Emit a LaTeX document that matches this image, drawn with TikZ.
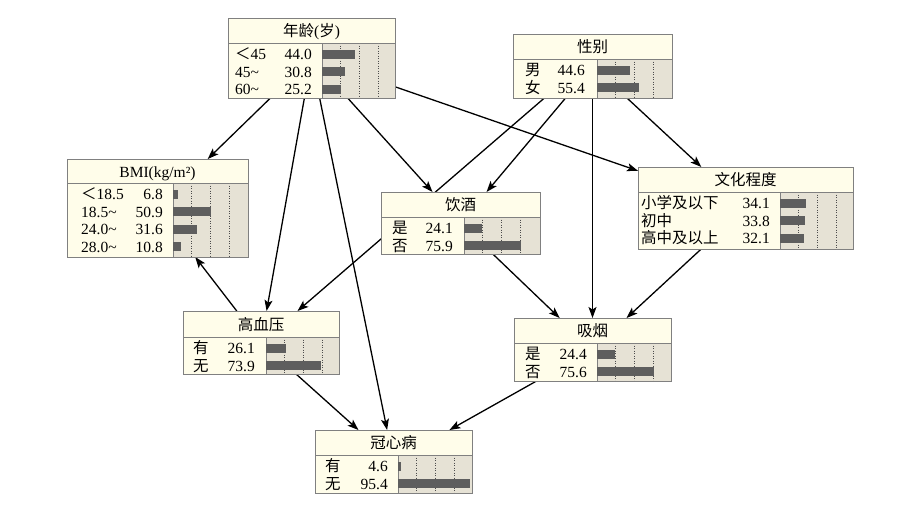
\documentclass[tikz,border=0pt]{standalone}
\usepackage{fontspec}
\setmainfont{Liberation Serif}
\newfontfamily\cjk{Noto Sans CJK SC}
\usetikzlibrary{arrows.meta,backgrounds}
\definecolor{cream}{HTML}{FFFDEA}
\definecolor{barbg}{HTML}{E6E2D5}
\definecolor{bordergray}{HTML}{808080}
\definecolor{barfill}{HTML}{5E5E5E}
\tikzset{
  bnbox/.style={rectangle, draw=bordergray, line width=1pt, fill=cream, inner sep=0pt, outer sep=0pt},
  bnline/.style={draw=bordergray, line width=1pt},
  dotline/.style={draw=black!70, line width=0.6pt, dash pattern=on 1pt off 1.5pt},
  edge/.style={draw=black, line width=1.3pt, -{Stealth[length=11pt,width=8pt,inset=2.5pt]}},
  txt/.style={inner sep=0pt, font=\fontsize{15.5}{17}\selectfont},
}
% #1 name #2 x0 #3 y0 #4 x1 #5 ytitle #6 y1 #7 xbar #8 title
\newcommand\bnnode[8]{%
  \node[bnbox, minimum width={(#4-#2)*1pt}, minimum height={(#6-#3)*1pt}] (#1) at ({(#2+#4)/2},{(#3+#6)/2}) {};
  \fill[barbg] (#7,#5) rectangle (#4,#6);
  \foreach \k in {1,2,3} \draw[dotline] ({#7+18.75*\k},#5) -- ({#7+18.75*\k},#6);
  \draw[bnline] (#2,#5) -- (#4,#5);
  \draw[bnline] (#7,#5) -- (#7,#6);
  \draw[bnline] (#1.north west) rectangle (#1.south east);
  \node[txt, anchor=base] (#1-title) at ({(#2+#4)/2},{(#3+#5)/2+6}) {#8};
}
% #1 name #2 label x #3 number right x #4 ytitle #5 xbar #6 rows
\newcommand\bnrows[6]{%
  \foreach \lab/\val [count=\i from 0] in {#6} {
    \pgfmathsetmacro\yc{#4+11+17.5*\i}
    \fill[barfill] (#5,\yc-4.5) rectangle ({#5+0.75*\val},\yc+4.5);
    \node[txt, anchor=base west] (#1-l\i) at (#2,\yc+5.5) {\lab};
    \node[txt, anchor=base east] (#1-v\i) at (#3,\yc+5.5) {\val};
  }
}
\begin{document}
\begin{tikzpicture}[x=1pt,y=-1pt]
\useasboundingbox (0,0) rectangle (914,504);

\bnnode{age}{228}{18}{395}{43}{98}{322}{{\cjk 年龄}({\cjk 岁})}
\bnrows{age}{235}{312}{43}{322}{{\cjk ＜}45/44.0, 45\textasciitilde/30.8, 60\textasciitilde/25.2}

\bnnode{sex}{513}{34}{672}{59}{98}{597}{\cjk 性别}
\bnrows{sex}{525}{585}{59}{597}{\cjk 男/44.6, \cjk 女/55.4}

\bnnode{bmi}{67}{159}{248}{183}{257}{173}{BMI(kg/m²)}
\bnrows{bmi}{81}{163}{183}{173}{{\cjk ＜}18.5/6.8, 18.5\textasciitilde/50.9, 24.0\textasciitilde/31.6, 28.0\textasciitilde/10.8}

\bnnode{drink}{381}{192}{540}{217}{254}{464}{\cjk 饮酒}
\bnrows{drink}{392}{453}{217}{464}{\cjk 是/24.1, \cjk 否/75.9}

\bnnode{edu}{638}{167}{853}{192}{249}{780}{\cjk 文化程度}
\bnrows{edu}{641}{770}{192}{780}{\cjk 小学及以下/34.1, \cjk 初中/33.8, \cjk 高中及以上/32.1}

\bnnode{hbp}{183}{311}{339}{337}{374}{266}{\cjk 高血压}
\bnrows{hbp}{193}{255}{337}{266}{\cjk 有/26.1, \cjk 无/73.9}

\bnnode{smoke}{514}{318}{671}{343}{381}{597}{\cjk 吸烟}
\bnrows{smoke}{525}{587}{343}{597}{\cjk 是/24.4, \cjk 否/75.6}

\bnnode{chd}{315}{430}{472}{455}{493}{398}{\cjk 冠心病}
\bnrows{chd}{325}{388}{455}{398}{\cjk 有/4.6, \cjk 无/95.4}

\begin{pgfonlayer}{background}
\fill[white] (0,0) rectangle (914,504);
\draw[edge] (age) -- (bmi);
\draw[edge] (age) -- (hbp);
\draw[edge] (age) -- (chd);
\draw[edge] (age) -- (drink);
\draw[edge] (age) -- (edu);
\draw[edge] ([xshift=-11pt]sex.center) -- (hbp);
\draw[edge] (sex) -- (drink);
\draw[edge] (sex) -- (smoke);
\draw[edge] (sex) -- (edu);
\draw[edge] (hbp) -- (bmi);
\draw[edge] (drink) -- (smoke);
\draw[edge] (edu) -- (smoke);
\draw[edge] (hbp) -- (chd);
\draw[edge] (smoke) -- (chd);
\end{pgfonlayer}
\end{tikzpicture}
\end{document}
